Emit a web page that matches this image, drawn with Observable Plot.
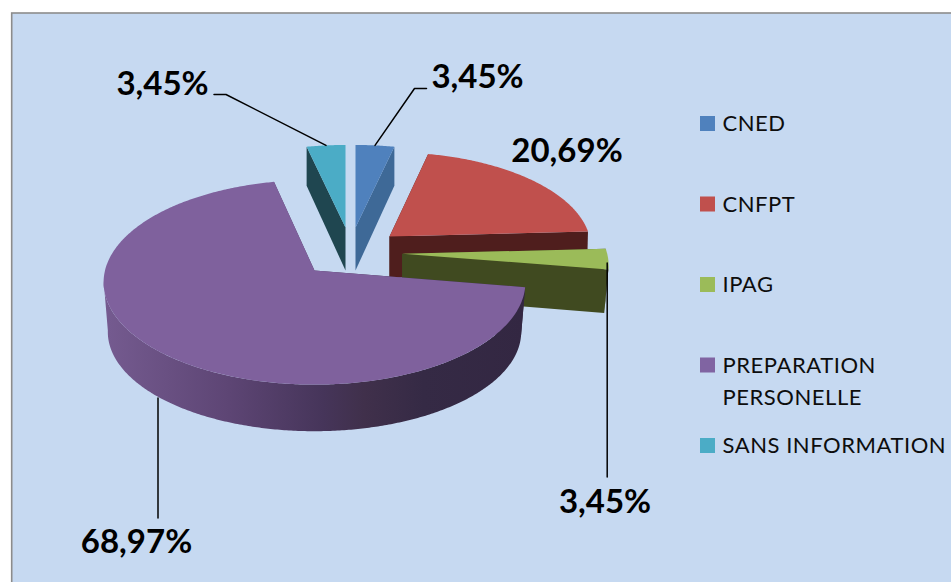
<!DOCTYPE html>
<html>
<head>
<meta charset="utf-8">
<script src="https://cdn.jsdelivr.net/npm/d3@7"></script>
<script src="https://cdn.jsdelivr.net/npm/@observablehq/plot@0.6"></script>
<style>
html,body{margin:0;padding:0;background:#fff;overflow:hidden}
svg{display:block}
.legend-text text{letter-spacing:0.55px}
</style>
</head>
<body>
<div id="chart"></div>
<script>
// Data
const categories = ["CNED", "CNFPT", "IPAG", "PREPARATION\nPERSONELLE", "SANS INFORMATION"];
const shares = [3.45, 20.69, 3.45, 68.97, 3.45];
const shareLabels = ["3,45%", "20,69%", "3,45%", "68,97%", "3,45%"];

// Styles
const topColors = ["#4f81bd", "#c0504d", "#9bbb59", "#7f619d", "#4bacc6"];
const wallColors = ["#3e6997", "#4f1e1d", "#404a20", "url(#purpleWall)", "#1f4650"];
const legendColors = ["#4f81bd", "#c0504d", "#9bbb59", "#8064a2", "#4bacc6"];

// Layout of each exploded 3D slice: apex, radii, depth, perspective of the lower rim
const sliceLayout = [
  {ax: 355, ay: 227, rx: 201, ry: 92, d: 43, bx: 1, by: 1.05},
  {ax: 389, ay: 236, rx: 200, ry: 94, d: 41, bx: 0.995, by: 1},
  {ax: 401.7, ay: 253.3, rx: 205, ry: 95, d: 43, bx: 0.98, by: 1.04},
  {ax: 314, ay: 270, rx: 209.5, ry: 101, d: 50, bx: 0.98, by: 0.97},
  {ax: 345, ay: 227, rx: 201, ry: 92, d: 43, bx: 1, by: 1.05}
];
const perspective = 0.115;
const drawOrder = [0, 4, 1, 2, 3];
// The outer wall is only visible on the front of the ring, down to this depth
const frontLimit = 0.1;

// Data label centres, baselines and leader-line routes
const labelLayout = [
  {x: 477, base: 87.5, leader: {rim: "top", via: [[414, 88], [426, 88]]}},
  {x: 566.5, base: 161.5},
  {x: 604.5, base: 512, leader: {rim: "top", dy: 4, via: [[606.7, 476.5]]}},
  {x: 136, base: 552.5, leader: {rim: "bottom", via: [[157.5, 517.5]]}},
  {x: 162, base: 94, leader: {rim: "top", via: [[225.5, 94], [213.5, 94]]}}
];
const legendX = 700, legendTop = 116, legendStep = 80.5, swatch = 15;
const labelSize = 33, legendSize = 22, legendLineHeight = 32 / 22;

// Geometry from the values
const total = d3.sum(shares);
let cum = 0;
const angles = shares.map(v => { const a0 = cum / total * 2 * Math.PI; cum += v; return [a0, cum / total * 2 * Math.PI]; });

function rimPoint(l, a, lower) {
  const u = Math.sin(a), v = -Math.cos(a), s = 1 / (1 - perspective * v);
  if (!lower) return [l.ax + l.rx * u * s, l.ay + l.ry * v * s];
  return [l.ax + l.rx * u * s * l.bx, l.ay + l.ry * v * s * l.by + l.d];
}
function arc(l, a0, a1, lower, step = 0.01) {
  const n = Math.max(2, Math.ceil((a1 - a0) / step));
  return d3.range(n + 1).map(i => rimPoint(l, a0 + (a1 - a0) * i / n, lower));
}
function slicePieces(i) {
  const l = sliceLayout[i], [a0, a1] = angles[i];
  const apex = [l.ax, l.ay], apexLow = [l.ax, l.ay + l.d];
  const topFace = [apex, ...arc(l, a0, a1, false)];
  const walls = [
    [apex, rimPoint(l, a0), rimPoint(l, a0, true), apexLow],
    [apex, rimPoint(l, a1), rimPoint(l, a1, true), apexLow]
  ];
  const limit = Math.acos(frontLimit);
  const f0 = Math.max(a0, Math.PI - limit), f1 = Math.min(a1, Math.PI + limit);
  if (f1 > f0) walls.push([...arc(l, f0, f1, false), ...arc(l, f0, f1, true).reverse()]);
  return {topFace, walls};
}
const row = (pts, part) => pts.map(([x, y]) => ({x, y, part}));

const marks = [
  Plot.rect([{}], {x1: () => 11.7, x2: () => 960, y1: () => 13, y2: () => 590,
    fill: "#c6d9f1", stroke: "#8c8c8c", strokeWidth: 1.6}),
  () => {
    const defs = d3.create("svg:defs");
    const g = defs.append("linearGradient").attr("id", "purpleWall")
      .attr("gradientUnits", "userSpaceOnUse").attr("x1", 103).attr("x2", 524).attr("y1", 0).attr("y2", 0);
    [[0, "#755b90"], [0.3, "#5d4574"], [0.52, "#46355a"], [0.62, "#40304b"], [0.76, "#352a45"], [1, "#332742"]]
      .forEach(([o, c]) => g.append("stop").attr("offset", o).attr("stop-color", c));
    return defs.node();
  }
];

for (const i of drawOrder) {
  const {topFace, walls} = slicePieces(i);
  const wallRows = walls.flatMap((w, k) => row(w, k));
  marks.push(Plot.line(wallRows, {x: "x", y: "y", z: "part", fill: wallColors[i], stroke: "none", curve: "linear"}));
  marks.push(Plot.line(row(topFace, 0), {x: "x", y: "y", fill: topColors[i], stroke: "none", curve: "linear"}));
}

// Leader lines start at each slice's mid angle
labelLayout.forEach((lab, i) => {
  if (!lab.leader) return;
  const l = sliceLayout[i], mid = (angles[i][0] + angles[i][1]) / 2;
  const [sx, sy] = rimPoint(l, mid, lab.leader.rim === "bottom");
  const vertical = lab.leader.via.length === 1;
  const start = [vertical ? lab.leader.via[0][0] : sx, sy + (lab.leader.dy || 0)];
  marks.push(Plot.line(row([start, ...lab.leader.via], 0), {x: "x", y: "y", stroke: "#000", strokeWidth: 1.5, curve: "linear"}));
});

// Data labels
marks.push(Plot.text(shareLabels.map((t, i) => ({t, x: labelLayout[i].x, y: labelLayout[i].base - 0.71 * labelSize})), {
  x: "x", y: "y", text: "t", fontSize: labelSize, fontWeight: 700, fill: "#000",
  textAnchor: "middle", lineAnchor: "top"
}));

// Legend
const legendRows = categories.map((c, i) => ({c, i, top: legendTop + i * legendStep, color: legendColors[i]}));
marks.push(Plot.rect(legendRows, {
  x1: () => legendX, x2: () => legendX + swatch,
  y1: "top", y2: d => d.top + swatch, fill: d => d.color
}));
marks.push(Plot.text(legendRows, {
  x: () => legendX + 22, y: d => d.top + swatch - 0.71 * legendLineHeight * legendSize, text: "c",
  fontSize: legendSize, fill: "#0d0d0d", textAnchor: "start", lineAnchor: "top", lineHeight: legendLineHeight,
  className: "legend-text"
}));

const chart = Plot.plot({
  width: 951, height: 582,
  margin: 0, marginTop: 0, marginRight: 0, marginBottom: 0, marginLeft: 0,
  x: {domain: [0, 951], range: [0, 951], axis: null},
  y: {domain: [0, 582], range: [0, 582], axis: null},
  color: {type: "identity"},
  style: {fontFamily: "Lato, 'Open Sans', sans-serif", background: "#fff"},
  marks
});
document.getElementById("chart").appendChild(chart);
</script>
</body>
</html>
